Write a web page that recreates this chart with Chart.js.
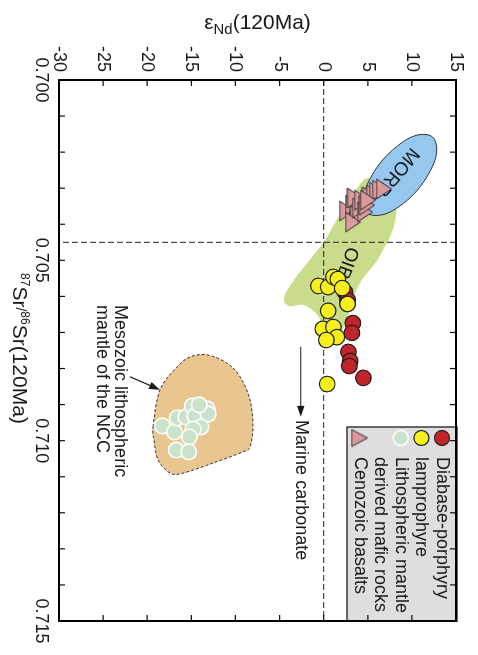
<!DOCTYPE html>
<html>
<head>
<meta charset="utf-8">
<script src="https://cdn.jsdelivr.net/npm/chart.js@4.4.1/dist/chart.umd.min.js"></script>
<style>
  html, body { margin: 0; padding: 0; background: #fff; overflow: hidden; }
  /* the plot is laid out landscape and turned a quarter turn clockwise */
  #wrap { position: absolute; left: 0; top: 0; width: 655px; height: 478px;
          transform-origin: 0 0; transform: translate(478px, 0) rotate(90deg); }
  canvas { display: block; }
</style>
</head>
<body>
<div id="wrap"><canvas id="c" width="655" height="478"></canvas></div>
<script>
// ---- axis ticks ----
const srTicks = [0.700, 0.701, 0.702, 0.703, 0.704, 0.705, 0.706, 0.707, 0.708,
                 0.709, 0.710, 0.711, 0.712, 0.713, 0.714, 0.715];
const srTickLabels = ['0.700', '0.705', '0.710', '0.715'];
const endTicks = [-30, -25, -20, -15, -10, -5, 0, 5, 10, 15];

// ---- samples: εNd(120Ma) and 87Sr/86Sr(120Ma) ----
const diabaseEnd = [2.4, 2.7, 3.3, 3.2, 2.8, 3.0, 2.9, 4.5];
const diabaseSr  = [0.70588, 0.70610, 0.70674, 0.70701, 0.70754, 0.70779, 0.70793, 0.70826];

const lamprophyreEnd = [-0.6, 0.5, 1.1, 1.6, 2.1, 2.7, 0.5, -0.1, 1.1, 1.5, 0.3, 0.4];
const lamprophyreSr  = [0.70571, 0.70574, 0.70546, 0.70552, 0.70577, 0.70621, 0.70640,
                        0.70690, 0.70685, 0.70713, 0.70721, 0.70843];

const mantleEnd = [-18.3, -16.9, -16.6, -15.6, -14.9, -14.6, -13.2, -13.1, -13.9, -14.8,
                   -15.2, -16.7, -15.3, -14.1];
const mantleSr  = [0.70959, 0.70976, 0.70937, 0.70934, 0.70904, 0.70932, 0.70912, 0.70926,
                   0.70962, 0.70968, 0.70990, 0.71026, 0.71031, 0.70901];

const basaltEnd = [2.65, 3.33, 3.55, 3.89, 3.33, 4.12, 4.35, 4.69, 4.91, 5.25, 5.71, 6.05,
                   6.39, 6.84, 5.03];
const basaltSr  = [0.70363, 0.70347, 0.70327, 0.70377, 0.70394, 0.70355, 0.70333, 0.70366,
                   0.70347, 0.70324, 0.70319, 0.70311, 0.70305, 0.70302, 0.70333];

// ---- reference fields, outlines as [εNd, Sr] ----
const morbField = [[12.34, 0.70158], [12.67, 0.70218], [10.64, 0.70305], [7.45, 0.70367],
                   [4.97, 0.70369], [4.64, 0.70309], [6.67, 0.70222], [9.86, 0.70159]];
const oibField = [[5.03, 0.70272], [6.95, 0.70305], [8.20, 0.70360], [7.75, 0.70421],
                  [6.73, 0.70471], [5.93, 0.70505], [4.35, 0.70554], [3.44, 0.70599],
                  [2.76, 0.70654], [1.85, 0.70699], [0.27, 0.70704], [-0.64, 0.70654],
                  [-2.23, 0.70624], [-3.93, 0.70627], [-4.50, 0.70604], [-3.36, 0.70554],
                  [-1.78, 0.70505], [0.15, 0.70444], [1.85, 0.70372], [3.67, 0.70305]];
const nccField = [[-19.34, 0.70962], [-18.55, 0.70859], [-16.62, 0.70796], [-15.15, 0.70768],
                  [-13.22, 0.70762], [-10.96, 0.70785], [-9.48, 0.70823], [-8.35, 0.70887],
                  [-8.01, 0.70962], [-8.35, 0.71017], [-9.14, 0.71031], [-12.54, 0.71062],
                  [-15.94, 0.71090], [-17.42, 0.71090], [-18.78, 0.71053], [-19.23, 0.70998]];

// reference lines: CHUR εNd and bulk-earth Sr
const churEnd = 0;
const bulkEarthSr = 0.7045;

const FONT = "'Liberation Sans', Arial, Helvetica, sans-serif";
Chart.defaults.font.family = FONT;
Chart.defaults.color = '#1a1a1a';

function pts(ends, srs) { return ends.map((e, i) => ({ x: srs[i], y: e })); }

function triangleMarker(w, h, fill, stroke) {
  const c = document.createElement('canvas');
  c.width = w + 2; c.height = h + 2;
  const g = c.getContext('2d');
  g.beginPath();
  g.moveTo(c.width / 2, 1); g.lineTo(w + 1, h + 1); g.lineTo(1, h + 1); g.closePath();
  g.fillStyle = fill; g.fill();
  g.lineWidth = 1; g.strokeStyle = stroke; g.stroke();
  return c;
}
const triPlot = triangleMarker(20, 15, '#d99a9e', '#2a2a2a');
const triLegend = triangleMarker(17, 16, '#d99a9e', '#2a2a2a');

function smoothClosed(ctx, p) {
  const n = p.length;
  ctx.beginPath();
  ctx.moveTo(p[0][0], p[0][1]);
  for (let i = 0; i < n; i++) {
    const p0 = p[(i - 1 + n) % n], p1 = p[i], p2 = p[(i + 1) % n], p3 = p[(i + 2) % n];
    ctx.bezierCurveTo(p1[0] + (p2[0] - p0[0]) / 6, p1[1] + (p2[1] - p0[1]) / 6,
                      p2[0] - (p3[0] - p1[0]) / 6, p2[1] - (p3[1] - p1[1]) / 6,
                      p2[0], p2[1]);
  }
  ctx.closePath();
}

function arrow(ctx, x1, y1, x2, y2) {
  const a = Math.atan2(y2 - y1, x2 - x1), L = 11, W = 3.8;
  ctx.beginPath(); ctx.moveTo(x1, y1);
  ctx.lineTo(x2 - Math.cos(a) * L * 0.8, y2 - Math.sin(a) * L * 0.8); ctx.stroke();
  ctx.beginPath();
  ctx.moveTo(x2, y2);
  ctx.lineTo(x2 - Math.cos(a) * L - Math.sin(a) * W, y2 - Math.sin(a) * L + Math.cos(a) * W);
  ctx.lineTo(x2 - Math.cos(a) * L + Math.sin(a) * W, y2 - Math.sin(a) * L - Math.cos(a) * W);
  ctx.closePath(); ctx.fill();
}

function richText(ctx, parts, x, y) {
  let w = 0;
  parts.forEach(p => { ctx.font = p.size + 'px ' + FONT; p.w = ctx.measureText(p.t).width; w += p.w; });
  let cx = x - w / 2;
  ctx.textAlign = 'left'; ctx.textBaseline = 'alphabetic';
  parts.forEach(p => { ctx.font = p.size + 'px ' + FONT; ctx.fillText(p.t, cx, y + (p.dy || 0)); cx += p.w; });
}

// fields, reference lines and annotations under the symbols
const fieldsPlugin = {
  id: 'fields',
  beforeDatasetsDraw(chart) {
    const { ctx, chartArea: a, scales: { x, y } } = chart;
    const P = ([e, sr]) => [x.getPixelForValue(sr), y.getPixelForValue(e)];
    ctx.save();
    ctx.beginPath(); ctx.rect(a.left, a.top, a.width, a.height); ctx.clip();

    smoothClosed(ctx, oibField.map(P));
    ctx.fillStyle = '#c9dc8c'; ctx.fill();

    smoothClosed(ctx, morbField.map(P));
    ctx.fillStyle = '#96c7ee'; ctx.fill();
    ctx.lineWidth = 1; ctx.strokeStyle = '#333'; ctx.stroke();

    smoothClosed(ctx, nccField.map(P));
    ctx.fillStyle = '#e9c58f'; ctx.fill();
    ctx.setLineDash([3, 2]); ctx.strokeStyle = '#333'; ctx.stroke();

    ctx.setLineDash([6, 3]); ctx.lineWidth = 1; ctx.strokeStyle = '#222';
    const yc = y.getPixelForValue(churEnd);
    ctx.beginPath(); ctx.moveTo(a.left, yc); ctx.lineTo(a.right, yc); ctx.stroke();
    const xb = x.getPixelForValue(bulkEarthSr);
    ctx.beginPath(); ctx.moveTo(xb, a.top); ctx.lineTo(xb, a.bottom); ctx.stroke();
    ctx.setLineDash([]);

    ctx.fillStyle = '#1a1a1a';
    ctx.textAlign = 'center'; ctx.textBaseline = 'middle';
    ctx.font = '19px ' + FONT;
    let p = P([8.3, 0.70255]);
    ctx.save(); ctx.translate(p[0], p[1]); ctx.rotate(40 * Math.PI / 180); ctx.fillText('MORB', 0, 0); ctx.restore();
    p = P([2.65, 0.70507]);
    ctx.save(); ctx.translate(p[0], p[1]); ctx.rotate(20 * Math.PI / 180); ctx.fillText('OIB', 0, 0); ctx.restore();

    ctx.font = '18px ' + FONT; ctx.textAlign = 'left';
    p = P([-23.1, 0.70624]); ctx.fillText('Mesozoic lithospheric', p[0], p[1]);
    p = P([-25.1, 0.70624]); ctx.fillText('mantle of the NCC', p[0], p[1]);
    p = P([-2.6, 0.70943]); ctx.fillText('Marine carbonate', p[0], p[1]);

    ctx.strokeStyle = '#1a1a1a'; ctx.lineWidth = 1.2;
    let s = P([-21.95, 0.70823]), t = P([-18.55, 0.70859]);
    arrow(ctx, s[0], s[1], t[0], t[1]);
    s = P([-2.6, 0.70740]); t = P([-2.6, 0.70934]);
    arrow(ctx, s[0], s[1], t[0], t[1]);
    ctx.restore();
  }
};

// legend box in the upper right corner of the plot
const legendPlugin = {
  id: 'boxLegend',
  afterDatasetsDraw(chart) {
    const { ctx, chartArea: a } = chart;
    const w = 194, h = 110, left = a.right - w, top = a.top - 1;
    ctx.save();
    ctx.fillStyle = '#dedede'; ctx.fillRect(left, top, w, h);
    ctx.lineWidth = 1.5; ctx.strokeStyle = '#3a3a3a'; ctx.strokeRect(left, top, w, h);
    ctx.font = '18px ' + FONT; ctx.textAlign = 'left'; ctx.textBaseline = 'middle';
    let row = 0;
    const rowY = r => top + 15 + r * 20.6;
    chart.data.datasets.forEach(ds => {
      const my = rowY(row), mx = left + 11;
      if (ds.pointStyle instanceof HTMLCanvasElement) {
        ctx.drawImage(triLegend, mx - triLegend.width / 2, my - triLegend.height / 2);
      } else {
        ctx.beginPath(); ctx.arc(mx, my, 7.5, 0, Math.PI * 2);
        ctx.fillStyle = ds.backgroundColor; ctx.fill();
        ctx.lineWidth = ds.borderWidth; ctx.strokeStyle = ds.borderColor; ctx.stroke();
      }
      ctx.fillStyle = '#1a1a1a';
      ds.label.split('\n').forEach(line => { ctx.fillText(line, left + 30, rowY(row)); row++; });
    });
    ctx.restore();
  }
};

// frame, inward ticks on all sides, axis titles
const framePlugin = {
  id: 'frame',
  afterDraw(chart) {
    const { ctx, chartArea: a, scales: { x, y } } = chart;
    const T = 6;
    ctx.save();
    ctx.strokeStyle = '#111'; ctx.lineWidth = 1.2;
    ctx.beginPath();
    srTicks.forEach(v => {
      const px = x.getPixelForValue(v);
      ctx.moveTo(px, a.bottom); ctx.lineTo(px, a.bottom - T);
      ctx.moveTo(px, a.top); ctx.lineTo(px, a.top + T);
    });
    endTicks.forEach(v => {
      const py = y.getPixelForValue(v);
      ctx.moveTo(a.left, py); ctx.lineTo(a.left + T, py);
      ctx.moveTo(a.right, py); ctx.lineTo(a.right - T, py);
    });
    ctx.stroke();
    ctx.lineWidth = 2; ctx.strokeStyle = '#000';
    ctx.strokeRect(a.left, a.top, a.width, a.height);

    ctx.fillStyle = '#1a1a1a';
    // εNd title (upright after the quarter turn)
    ctx.save();
    ctx.translate(29, (a.top + a.bottom) / 2);
    ctx.rotate(-Math.PI / 2);
    richText(ctx, [{ t: 'ε', size: 21 }, { t: 'Nd', size: 15, dy: 5 }, { t: '(120Ma)', size: 21 }], 0, 0);
    ctx.restore();
    // Sr isotope title
    richText(ctx, [{ t: '87', size: 12, dy: -8 }, { t: 'Sr', size: 21 }, { t: '/', size: 14, dy: -3 },
                   { t: '86', size: 12, dy: -8 }, { t: 'Sr(120Ma)', size: 21 }],
             (a.left + a.right) / 2 - 2, 465);
    ctx.restore();
  }
};

new Chart(document.getElementById('c'), {
  type: 'scatter',
  data: {
    datasets: [
      { label: 'Diabase-porphyry', data: pts(diabaseEnd, diabaseSr), order: 2,
        backgroundColor: '#c1252b', borderColor: '#1e1e1e', borderWidth: 1.2,
        pointRadius: 7.8, pointHoverRadius: 7.8 },
      { label: 'lamprophyre', data: pts(lamprophyreEnd, lamprophyreSr), order: 1,
        backgroundColor: '#f7ef1c', borderColor: '#1e1e1e', borderWidth: 1.2,
        pointRadius: 7.8, pointHoverRadius: 7.8 },
      { label: 'Lithospheric mantle\nderived mafic rocks', data: pts(mantleEnd, mantleSr), order: 3,
        backgroundColor: '#cbe2cd', borderColor: '#ffffff', borderWidth: 1.5,
        pointRadius: 7.8, pointHoverRadius: 7.8 },
      { label: 'Cenozoic basalts', data: pts(basaltEnd, basaltSr), order: 0,
        pointStyle: triPlot, backgroundColor: '#d99a9e', borderColor: '#2a2a2a',
        pointRadius: 10, pointHoverRadius: 10 }
    ]
  },
  options: {
    responsive: false,
    animation: false,
    events: [],
    layout: { padding: { top: 22, right: 34, left: 0, bottom: 0 } },
    plugins: { legend: { display: false }, tooltip: { enabled: false }, title: { display: false } },
    scales: {
      x: {
        type: 'linear', position: 'bottom', min: 0.700, max: 0.715,
        afterBuildTicks: s => { s.ticks = srTicks.map(v => ({ value: v })); },
        afterFit: s => { s.height = 59; },
        grid: { display: false, drawTicks: false },
        border: { display: false },
        ticks: {
          autoSkip: false, maxRotation: 0, padding: 7, color: '#1a1a1a',
          font: { size: 18 },
          callback: v => { const s = Number(v).toFixed(3); return srTickLabels.includes(s) ? s : ''; }
        }
      },
      y: {
        type: 'linear', position: 'left', min: -30, max: 15,
        afterBuildTicks: s => { s.ticks = endTicks.map(v => ({ value: v })); },
        afterFit: s => { s.width = 80; },
        grid: { display: false, drawTicks: false },
        border: { display: false },
        ticks: { padding: 8, color: '#1a1a1a', font: { size: 18 }, callback: v => String(v) }
      }
    }
  },
  plugins: [fieldsPlugin, legendPlugin, framePlugin]
});
</script>
</body>
</html>
